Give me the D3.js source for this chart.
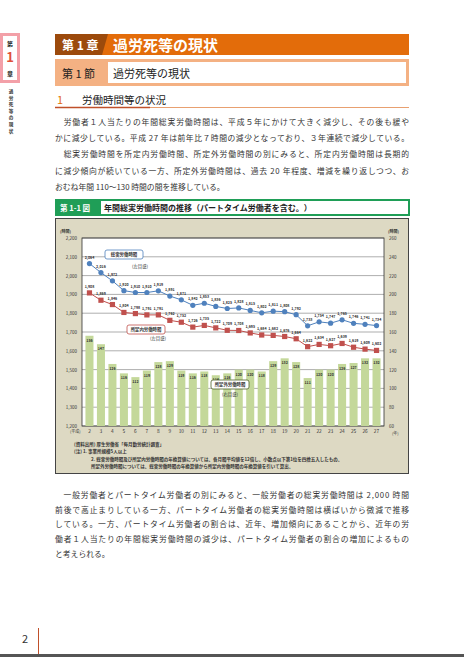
<!DOCTYPE html>
<html><head><meta charset="utf-8">
<script src="https://cdn.jsdelivr.net/npm/d3@7"></script>
<style>
body{margin:0;background:#fff;font-family:"Noto Sans CJK JP",sans-serif;}
</style></head><body>
<svg id="pg" width="464" height="657"></svg>
<script>
const years = d3.range(2, 28).map(String);
const totalHours = [2064,2016,1972,1920,1910,1910,1919,1891,1871,1842,1853,1836,1825,1828,1815,1802,1811,1808,1792,1733,1754,1747,1765,1746,1741,1734];
const scheduledHours = [1908,1869,1846,1804,1798,1791,1791,1762,1752,1726,1735,1722,1709,1708,1695,1684,1682,1676,1664,1622,1634,1627,1639,1619,1609,1602];
const overtimeHours = [156,147,126,116,112,119,128,129,119,116,118,114,116,120,120,118,129,132,128,111,120,120,126,127,132,132];
const leftTicks = [1200,1300,1400,1500,1600,1700,1800,1900,2000,2100,2200];
const rightTicks = [60,80,100,120,140,160,180,200,220,240,260];

const svg = d3.select("#pg");
// side tab
svg.append("rect").attr("x",0).attr("y",33).attr("width",20).attr("height",50).attr("fill","#f3a0a8");
svg.append("rect").attr("x",3).attr("y",36).attr("width",14).attr("height",44).attr("fill","#fff");
[["第",46,6],["1",62,13],["章",76,6]].forEach(([t,y,s])=>svg.append("text").attr("x",10).attr("y",y).attr("text-anchor","middle").attr("font-size",s).attr("font-weight","bold").attr("fill",t==="1"?"#e0503a":"#222").text(t));
"過労死等の現状".split("").forEach((c,i)=>svg.append("text").attr("x",11).attr("y",93+i*6.6).attr("text-anchor","middle").attr("font-size",4.6).attr("font-weight","bold").attr("fill","#333").text(c));
// chapter bar
svg.append("rect").attr("x",55).attr("y",34).attr("width",354).attr("height",21).attr("fill","#e36c0a");
svg.append("path").attr("d","M55,34H108L102,55H55Z").attr("fill","#9c4a0c");
svg.append("text").attr("x",62).attr("y",50).attr("font-size",12).attr("font-weight","bold").attr("fill","#fff").text("第 1 章");
svg.append("text").attr("x",113).attr("y",51).attr("font-size",15).attr("font-weight","bold").attr("fill","#fff").text("過労死等の現状");
// section
svg.append("rect").attr("x",55).attr("y",59).attr("width",354).attr("height",27).attr("fill","#f4b183");
svg.append("rect").attr("x",108).attr("y",62).attr("width",298).attr("height",21).attr("fill","#fff");
svg.append("text").attr("x",62).attr("y",78).attr("font-size",11).attr("fill","#222").text("第 1 節");
svg.append("text").attr("x",113).attr("y",78).attr("font-size",11).attr("fill","#222").text("過労死等の現状");
// heading
svg.append("text").attr("x",57).attr("y",104).attr("font-size",11).attr("fill","#e36c0a").text("1");
svg.append("text").attr("x",82).attr("y",104).attr("font-size",10.5).attr("fill","#222").text("労働時間等の状況");
svg.append("line").attr("x1",55).attr("x2",409).attr("y1",107.5).attr("y2",107.5).attr("stroke","#e8a070").attr("stroke-width",1);
svg.append("line").attr("x1",55).attr("x2",150).attr("y1",107.5).attr("y2",107.5).attr("stroke","#c0502a").attr("stroke-width",1.5);
const para1 = ["　労働者１人当たりの年間総実労働時間は、平成５年にかけて大きく減少し、その後も緩や",
"かに減少している。平成 27 年は前年比７時間の減少となっており、３年連続で減少している。",
"　総実労働時間を所定内労働時間、所定外労働時間の別にみると、所定内労働時間は長期的",
"に減少傾向が続いている一方、所定外労働時間は、過去 20 年程度、増減を繰り返しつつ、お",
"おむね年間 110～130 時間の間を推移している。"];
para1.forEach((t,i)=>svg.append("text").attr("x",55).attr("y",125+i*16.2).attr("font-size",7.8).attr("fill","#333").attr("textLength",i<4?354:null).text(t));
// fig title
svg.append("rect").attr("x",55).attr("y",199).attr("width",355).attr("height",17).attr("fill","#1f9e57");
svg.append("rect").attr("x",101).attr("y",201).attr("width",307).attr("height",13).attr("fill","#fff");
svg.append("text").attr("x",60).attr("y",211).attr("font-size",7.5).attr("font-weight","bold").attr("fill","#fff").text("第 1-1 図");
svg.append("text").attr("x",104).attr("y",211).attr("font-size",8).attr("font-weight","bold").attr("fill","#222").text("年間総実労働時間の推移（パートタイム労働者を含む。）");
// chart panel
svg.append("rect").attr("x",55.5).attr("y",218.5).attr("width",353).attr("height",255).attr("fill","#ddd9c3").attr("stroke","#444");
const L=82, R=384, T=238, B=426;
svg.append("rect").attr("x",L).attr("y",T).attr("width",R-L).attr("height",B-T).attr("fill","#fff");
const x = d3.scaleBand().domain(years).range([L,R]).padding(0.3);
const yl = d3.scaleLinear().domain([1200,2200]).range([B,T]);
const yr = d3.scaleLinear().domain([60,260]).range([B,T]);
const g = svg.append("g");
g.selectAll(".gl").data(leftTicks).join("line").attr("x1",L).attr("x2",R).attr("y1",d=>yl(d)).attr("y2",d=>yl(d)).attr("stroke","#777").attr("stroke-width",0.6);
g.append("rect").attr("x",L).attr("y",T).attr("width",R-L).attr("height",B-T).attr("fill","none").attr("stroke","#333").attr("stroke-width",0.8);
// bars
g.selectAll(".bar").data(overtimeHours).join("rect").attr("x",(d,i)=>x(years[i])).attr("width",x.bandwidth()).attr("y",d=>yr(d)).attr("height",d=>B-yr(d)).attr("fill","#c4d89a");
g.selectAll(".bl").data(overtimeHours).join("text").attr("x",(d,i)=>x(years[i])+x.bandwidth()/2).attr("y",d=>yr(d)+6).attr("text-anchor","middle").attr("font-size",3.6).attr("font-weight","bold").attr("fill","#333").text(d=>d);
// lines
const cx = i=>x(years[i])+x.bandwidth()/2;
function series(data,color,shape){
  g.append("path").datum(data).attr("d",d3.line().x((d,i)=>cx(i)).y(d=>yl(d))).attr("fill","none").attr("stroke",color).attr("stroke-width",1);
  if(shape==="c") g.selectAll(null).data(data).join("circle").attr("cx",(d,i)=>cx(i)).attr("cy",d=>yl(d)).attr("r",2.6).attr("fill",color);
  else g.selectAll(null).data(data).join("rect").attr("x",(d,i)=>cx(i)-2.6).attr("y",d=>yl(d)-2.6).attr("width",5.2).attr("height",5.2).attr("fill",color);
  g.selectAll(null).data(data).join("text").attr("x",(d,i)=>cx(i)).attr("y",d=>yl(d)-5).attr("text-anchor","middle").attr("font-size",3.6).attr("font-weight","bold").attr("fill","#333").text(d=>d3.format(",")(d));
}
series(totalHours,"#4f81bd","c");
series(scheduledHours,"#c0504d","s");
// axes labels
g.selectAll(".lt").data(leftTicks).join("text").attr("x",L-5).attr("y",d=>yl(d)+2).attr("text-anchor","end").attr("font-size",4.5).attr("fill","#333").text(d=>d3.format(",")(d));
g.selectAll(".rt").data(rightTicks).join("text").attr("x",R+5).attr("y",d=>yr(d)+2).attr("font-size",4.5).attr("fill","#333").text(d=>d);
g.selectAll(".xt").data(years).join("text").attr("x",d=>x(d)+x.bandwidth()/2).attr("y",B+7).attr("text-anchor","middle").attr("font-size",4.8).attr("fill","#333").text(d=>d);
g.append("text").attr("x",L-12).attr("y",B+7).attr("font-size",4).attr("fill","#333").text("(平成)");
g.append("text").attr("x",R+8).attr("y",B+9).attr("font-size",4).attr("fill","#333").text("(年)");
g.append("text").attr("x",L-22).attr("y",T-5).attr("font-size",4).attr("font-weight","bold").attr("fill","#333").text("(時間)");
g.append("text").attr("x",R+4).attr("y",T-5).attr("font-size",4).attr("font-weight","bold").attr("fill","#333").text("(時間)");
// callouts
function callout(bx,by,label,sub,sx,sy,stroke){
  g.append("rect").attr("x",bx).attr("y",by).attr("width",38).attr("height",9).attr("rx",2).attr("fill","#fff").attr("stroke",stroke).attr("stroke-width",0.8);
  g.append("text").attr("x",bx+19).attr("y",by+6.3).attr("text-anchor","middle").attr("font-size",4.4).attr("font-weight","bold").attr("fill","#333").text(label);
  g.append("text").attr("x",sx).attr("y",sy).attr("text-anchor","middle").attr("font-size",4.4).attr("fill","#333").text(sub);
}
callout(105,250,"総実労働時間","(左目盛)",140,268,"#4f81bd");
callout(127,325,"所定内労働時間","(左目盛)",158,340,"#c0504d");
callout(211,380,"所定外労働時間","(右目盛)",230,396,"#4f6228");
// footnotes
const notes=[["(資料出所) 厚生労働省「毎月勤労統計調査」",74],["(注) 1. 事業所規模5人以上",74],["2. 総実労働時間及び所定内労働時間の年換算値については、各月間平均値を12倍し、小数点以下第1位を四捨五入したもの。",91],["所定外労働時間については、総実労働時間の年換算値から所定内労働時間の年換算値を引いて算出。",91]];
notes.forEach(([t,xx],i)=>svg.append("text").attr("x",xx).attr("y",446+i*7.3).attr("font-size",4.5).attr("font-weight","bold").attr("fill","#333").text(t));
// paragraph 2
const para2=["　一般労働者とパートタイム労働者の別にみると、一般労働者の総実労働時間は 2,000 時間",
"前後で高止まりしている一方、パートタイム労働者の総実労働時間は横ばいから微減で推移",
"している。一方、パートタイム労働者の割合は、近年、増加傾向にあることから、近年の労",
"働者１人当たりの年間総実労働時間の減少は、パートタイム労働者の割合の増加によるもの",
"と考えられる。"];
para2.forEach((t,i)=>svg.append("text").attr("x",55).attr("y",498+i*14.7).attr("font-size",7.8).attr("fill","#333").attr("textLength",i<4?354:null).text(t));
// page number
svg.append("text").attr("x",22).attr("y",643).attr("font-size",11).attr("fill","#333").text("2");
svg.append("line").attr("x1",38.5).attr("x2",38.5).attr("y1",628).attr("y2",656).attr("stroke","#c0502a");
svg.append("rect").attr("x",0).attr("y",654).attr("width",464).attr("height",3).attr("fill","#555");
</script></body></html>
